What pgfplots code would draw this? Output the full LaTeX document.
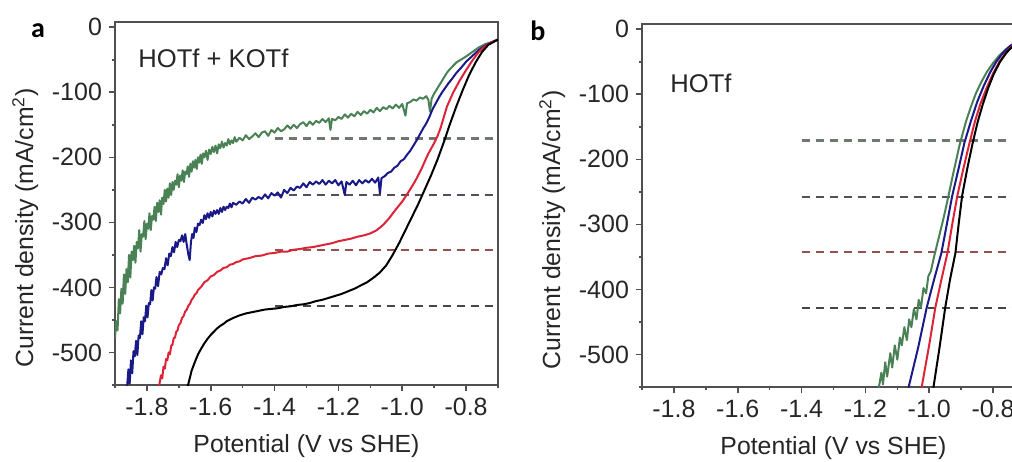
\documentclass[border=0pt]{standalone}
\usepackage{fontspec}
\setmainfont{Liberation Sans}
\newfontfamily\carlito{Carlito}
\usepackage{pgfplots}
\pgfplotsset{compat=1.18}

\definecolor{cgreen}{RGB}{75,130,85}
\definecolor{cblue}{RGB}{25,25,135}
\definecolor{cred}{RGB}{220,35,55}
\definecolor{dgreen}{RGB}{110,120,110}
\definecolor{dblue}{RGB}{80,80,95}
\definecolor{dred}{RGB}{150,80,80}
\definecolor{dblack}{RGB}{70,70,70}
\definecolor{axgray}{RGB}{80,80,80}

\tikzset{
  dsh/.style={line width=1.1pt, dash pattern=on 4pt off 3pt},
  crv/.style={line width=1pt, line join=round},
  ann/.style={anchor=west, inner sep=0pt, font=\fontsize{12.8}{14}\selectfont, black!85},
}
\pgfplotsset{
  lsv/.style={
    scale only axis, width=191.5pt, height=181.5pt,
    xmin=-1.9, xmax=-0.7, ymin=-550, ymax=8,
    xtick={-1.8,-1.6,-1.4,-1.2,-1.0,-0.8},
    ytick={0,-100,-200,-300,-400,-500},
    minor xtick={-1.9,-1.7,-1.5,-1.3,-1.1,-0.9,-0.7},
    minor ytick={-50,-150,-250,-350,-450,-550},
    tick pos=left, tick align=outside,
    major tick length=3pt, minor tick length=1.5pt,
    every tick/.style={axgray, line width=0.8pt},
    axis line style={axgray, line width=1pt},
    /pgf/number format/assume math mode=true,
    tick label style={font=\fontsize{12.5}{14}\selectfont, black!85},
    xticklabel style={/pgf/number format/.cd, fixed, fixed zerofill, precision=1},
    label style={font=\fontsize{12.4}{14}\selectfont, black!85},
    xlabel={Potential (V vs SHE)},
    xlabel style={yshift=-2.5pt},
    ylabel={Current density (mA/cm\textsuperscript{2})},
    every axis y label/.append style={at={(ticklabel cs:0.433)}},
    clip=true,
  },
}

\begin{document}
\begin{tikzpicture}
\begin{axis}[lsv, name=pa, anchor=south west, at={(0pt,0pt)}]
  \addplot[dsh, dgreen] coordinates {(-1.4,-171) (-0.7,-171)};
  \addplot[dsh, dblue] coordinates {(-1.4,-258) (-0.7,-258)};
  \addplot[dsh, dred] coordinates {(-1.4,-343) (-0.7,-343)};
  \addplot[dsh, dblack] coordinates {(-1.4,-429) (-0.7,-429)};
  % green
  \addplot[crv, cgreen] coordinates {
    (-1.900,-478) (-1.896,-452) (-1.892,-466) (-1.888,-418) (-1.884,-440)
    (-1.880,-402) (-1.876,-425) (-1.872,-380) (-1.868,-410) (-1.864,-372)
    (-1.860,-392) (-1.856,-350) (-1.852,-385) (-1.848,-345) (-1.844,-358)
    (-1.840,-336) (-1.836,-362) (-1.832,-330) (-1.828,-340) (-1.824,-312)
    (-1.820,-345) (-1.816,-318) (-1.812,-322) (-1.808,-298) (-1.804,-326)
    (-1.800,-302) (-1.796,-310) (-1.792,-286) (-1.788,-312) (-1.784,-290)
    (-1.780,-296) (-1.776,-276) (-1.772,-298) (-1.768,-270) (-1.764,-284)
    (-1.760,-266) (-1.756,-288) (-1.752,-262) (-1.748,-272) (-1.744,-250)
    (-1.740,-268) (-1.736,-248) (-1.732,-262) (-1.728,-240) (-1.724,-258)
    (-1.720,-238) (-1.716,-250) (-1.712,-236) (-1.708,-242) (-1.704,-226)
    (-1.700,-246) (-1.696,-228) (-1.692,-236) (-1.688,-220) (-1.684,-238)
    (-1.680,-222) (-1.676,-226) (-1.672,-214) (-1.668,-230) (-1.664,-210)
    (-1.660,-222) (-1.656,-206) (-1.652,-216) (-1.648,-204) (-1.644,-218)
    (-1.640,-200) (-1.636,-208) (-1.632,-196) (-1.628,-210) (-1.624,-194)
    (-1.620,-200) (-1.615,-190) (-1.610,-204) (-1.605,-188) (-1.600,-195)
    (-1.595,-184) (-1.590,-192) (-1.585,-182) (-1.580,-194) (-1.575,-180)
    (-1.570,-186) (-1.565,-176) (-1.560,-185) (-1.555,-178) (-1.550,-182)
    (-1.545,-172) (-1.540,-180) (-1.535,-174) (-1.530,-178) (-1.525,-169)
    (-1.520,-176) (-1.510,-170) (-1.500,-174) (-1.490,-166) (-1.480,-172)
    (-1.470,-168) (-1.460,-163) (-1.450,-169) (-1.440,-162) (-1.430,-160)
    (-1.420,-167) (-1.410,-158) (-1.400,-162) (-1.390,-155) (-1.380,-160)
    (-1.370,-157) (-1.360,-151) (-1.350,-156) (-1.340,-150) (-1.330,-155)
    (-1.320,-149) (-1.310,-146) (-1.300,-152) (-1.290,-145) (-1.280,-150)
    (-1.270,-144) (-1.260,-147) (-1.250,-141) (-1.240,-146) (-1.230,-140)
    (-1.225,-158) (-1.220,-141) (-1.210,-143) (-1.200,-138) (-1.190,-141)
    (-1.180,-134) (-1.170,-139) (-1.160,-133) (-1.150,-137) (-1.140,-130)
    (-1.130,-135) (-1.120,-129) (-1.110,-133) (-1.100,-127) (-1.090,-131)
    (-1.080,-124) (-1.070,-129) (-1.060,-123) (-1.050,-126) (-1.040,-121)
    (-1.030,-125) (-1.020,-119) (-1.010,-124) (-1.000,-118) (-0.990,-136)
    (-0.985,-117) (-0.975,-115) (-0.965,-111) (-0.955,-113) (-0.945,-108)
    (-0.935,-110) (-0.925,-106) (-0.918,-112) (-0.913,-130) (-0.908,-110)
    (-0.900,-102) (-0.890,-94) (-0.880,-86) (-0.870,-78) (-0.860,-70)
    (-0.850,-64) (-0.840,-59) (-0.830,-54) (-0.820,-51) (-0.800,-45)
    (-0.780,-38) (-0.760,-31) (-0.740,-26) (-0.720,-23) (-0.700,-19)
  };
  % blue
  \addplot[crv, cblue] coordinates {
    (-1.862,-552) (-1.858,-526) (-1.854,-548) (-1.850,-512) (-1.846,-532)
    (-1.842,-498) (-1.838,-506) (-1.834,-482) (-1.830,-504) (-1.826,-474)
    (-1.822,-478) (-1.818,-452) (-1.814,-472) (-1.810,-446) (-1.806,-452)
    (-1.802,-428) (-1.798,-446) (-1.794,-424) (-1.790,-426) (-1.786,-404)
    (-1.782,-420) (-1.778,-400) (-1.774,-402) (-1.770,-384) (-1.765,-398)
    (-1.760,-376) (-1.755,-380) (-1.750,-370) (-1.745,-372) (-1.740,-355)
    (-1.735,-366) (-1.730,-348) (-1.725,-352) (-1.720,-338) (-1.715,-346)
    (-1.710,-330) (-1.705,-338) (-1.700,-327) (-1.695,-329) (-1.690,-320)
    (-1.685,-330) (-1.680,-318) (-1.675,-335) (-1.670,-350) (-1.666,-358)
    (-1.662,-330) (-1.658,-318) (-1.654,-324) (-1.650,-308) (-1.645,-315)
    (-1.640,-302) (-1.635,-304) (-1.630,-296) (-1.625,-301) (-1.620,-289)
    (-1.615,-295) (-1.610,-286) (-1.605,-293) (-1.600,-284) (-1.595,-291)
    (-1.590,-282) (-1.585,-287) (-1.580,-281) (-1.575,-287) (-1.570,-278)
    (-1.565,-284) (-1.560,-276) (-1.555,-281) (-1.550,-276) (-1.545,-278)
    (-1.540,-271) (-1.535,-277) (-1.530,-270) (-1.520,-273) (-1.510,-268)
    (-1.500,-271) (-1.490,-264) (-1.480,-270) (-1.470,-262) (-1.460,-265)
    (-1.450,-261) (-1.440,-264) (-1.430,-257) (-1.420,-263) (-1.410,-255)
    (-1.400,-259) (-1.390,-254) (-1.380,-262) (-1.370,-250) (-1.360,-255)
    (-1.350,-247) (-1.340,-251) (-1.330,-245) (-1.320,-247) (-1.310,-240)
    (-1.300,-246) (-1.290,-238) (-1.280,-242) (-1.270,-237) (-1.260,-241)
    (-1.250,-235) (-1.240,-242) (-1.230,-236) (-1.220,-240) (-1.210,-235)
    (-1.200,-243) (-1.190,-237) (-1.180,-258) (-1.175,-238) (-1.165,-242)
    (-1.155,-236) (-1.145,-243) (-1.135,-235) (-1.125,-240) (-1.115,-235)
    (-1.105,-239) (-1.095,-233) (-1.085,-239) (-1.075,-231) (-1.070,-256)
    (-1.065,-232) (-1.055,-229) (-1.045,-224) (-1.035,-222) (-1.025,-216)
    (-1.015,-213) (-1.005,-206) (-0.995,-203) (-0.985,-196) (-0.975,-190)
    (-0.965,-182) (-0.955,-174) (-0.945,-165) (-0.935,-156) (-0.925,-148)
    (-0.915,-138) (-0.905,-126) (-0.895,-117) (-0.885,-108) (-0.875,-100)
    (-0.865,-93) (-0.855,-86) (-0.845,-80) (-0.830,-70) (-0.815,-62)
    (-0.800,-53) (-0.780,-44) (-0.760,-35) (-0.740,-28) (-0.720,-23)
    (-0.700,-19)
  };
  % red
  \addplot[crv, cred] coordinates {
    (-1.762,-552) (-1.756,-535) (-1.752,-540) (-1.748,-522) (-1.744,-525)
    (-1.740,-510) (-1.736,-512) (-1.732,-500) (-1.728,-503) (-1.724,-490)
    (-1.720,-488) (-1.716,-478) (-1.712,-477) (-1.708,-468) (-1.704,-466)
    (-1.700,-458) (-1.695,-455) (-1.690,-447) (-1.685,-444) (-1.680,-437)
    (-1.675,-434) (-1.670,-428) (-1.665,-425) (-1.660,-419) (-1.655,-416)
    (-1.650,-411) (-1.645,-409) (-1.640,-404) (-1.630,-399) (-1.620,-392)
    (-1.610,-389) (-1.600,-383) (-1.590,-381) (-1.580,-376) (-1.570,-374)
    (-1.560,-370) (-1.550,-369) (-1.540,-365) (-1.530,-364) (-1.520,-361)
    (-1.510,-360) (-1.500,-357) (-1.480,-355) (-1.460,-352) (-1.440,-351)
    (-1.420,-348) (-1.400,-347) (-1.380,-345) (-1.360,-345) (-1.340,-342)
    (-1.320,-341) (-1.300,-339) (-1.280,-338) (-1.260,-336) (-1.240,-334)
    (-1.220,-332) (-1.200,-329) (-1.180,-327) (-1.160,-325) (-1.140,-322)
    (-1.120,-320) (-1.100,-317) (-1.080,-312) (-1.060,-304) (-1.040,-293)
    (-1.020,-280) (-1.000,-268) (-0.980,-253) (-0.960,-237) (-0.940,-218)
    (-0.920,-196) (-0.900,-178) (-0.890,-168) (-0.880,-155) (-0.860,-122)
    (-0.840,-100) (-0.820,-82) (-0.800,-66) (-0.780,-51) (-0.760,-38)
    (-0.740,-29) (-0.720,-23) (-0.700,-19)
  };
  % black
  \addplot[crv, black] coordinates {
    (-1.672,-552) (-1.660,-528) (-1.650,-515) (-1.640,-503) (-1.630,-494)
    (-1.620,-486) (-1.610,-479) (-1.600,-473) (-1.590,-468) (-1.580,-463)
    (-1.570,-459) (-1.560,-456) (-1.550,-452) (-1.530,-447) (-1.510,-443)
    (-1.490,-440) (-1.470,-438) (-1.450,-436) (-1.430,-434) (-1.410,-433)
    (-1.390,-432) (-1.370,-430) (-1.350,-429) (-1.330,-427) (-1.310,-426)
    (-1.290,-424) (-1.270,-421) (-1.250,-419) (-1.230,-416) (-1.210,-413)
    (-1.190,-410) (-1.170,-406) (-1.150,-402) (-1.130,-397) (-1.110,-392)
    (-1.090,-385) (-1.070,-377) (-1.050,-366) (-1.030,-350) (-1.010,-332)
    (-0.990,-312) (-0.970,-292) (-0.950,-272) (-0.930,-250) (-0.910,-228)
    (-0.890,-204) (-0.870,-177) (-0.850,-148) (-0.830,-121) (-0.810,-96)
    (-0.790,-73) (-0.770,-54) (-0.750,-38) (-0.730,-27) (-0.700,-19)
  };
  \node[ann] at (rel axis cs:0.06,0.9) {HOTf + KOTf};
\end{axis}

\begin{axis}[lsv, name=pb, anchor=south west, at={(263.5pt,-1pt)}]
  \addplot[dsh, dgreen] coordinates {(-1.4,-171) (-0.7,-171)};
  \addplot[dsh, dblue] coordinates {(-1.4,-258) (-0.7,-258)};
  \addplot[dsh, dred] coordinates {(-1.4,-343) (-0.7,-343)};
  \addplot[dsh, dblack] coordinates {(-1.4,-429) (-0.7,-429)};
  \addplot[crv, cgreen] coordinates {
    (-1.158,-551) (-1.150,-528) (-1.145,-546) (-1.138,-512) (-1.132,-534)
    (-1.122,-498) (-1.116,-520) (-1.108,-486) (-1.100,-508) (-1.092,-474)
    (-1.086,-486) (-1.078,-458) (-1.070,-478) (-1.063,-446) (-1.056,-458)
    (-1.048,-430) (-1.040,-446) (-1.033,-416) (-1.026,-428) (-1.018,-398)
    (-1.010,-406) (-1.003,-380) (-0.995,-372) (-0.985,-350) (-0.975,-330)
    (-0.965,-310) (-0.955,-290) (-0.945,-268) (-0.935,-245) (-0.925,-222)
    (-0.915,-200) (-0.905,-178) (-0.895,-160) (-0.885,-142) (-0.870,-120)
    (-0.855,-100) (-0.840,-84) (-0.820,-66) (-0.800,-52) (-0.780,-40)
    (-0.760,-31) (-0.740,-24) (-0.720,-18) (-0.700,-14)
  };
  \addplot[crv, cblue] coordinates {
    (-1.065,-551) (-1.035,-490) (-1.008,-428) (-0.985,-385) (-0.962,-344)
    (-0.945,-300) (-0.928,-256) (-0.907,-212) (-0.890,-175) (-0.870,-142)
    (-0.850,-112) (-0.830,-88) (-0.810,-67) (-0.790,-50) (-0.770,-37)
    (-0.750,-27) (-0.730,-20) (-0.700,-14)
  };
  \addplot[crv, cred] coordinates {
    (-1.024,-551) (-1.000,-485) (-0.981,-428) (-0.962,-385) (-0.943,-344)
    (-0.928,-300) (-0.912,-256) (-0.892,-212) (-0.874,-175) (-0.857,-142)
    (-0.840,-115) (-0.820,-90) (-0.800,-68) (-0.780,-50) (-0.760,-36)
    (-0.740,-26) (-0.720,-19) (-0.700,-14)
  };
  \addplot[crv, black] coordinates {
    (-0.987,-551) (-0.968,-490) (-0.950,-428) (-0.935,-385) (-0.918,-344)
    (-0.908,-300) (-0.897,-256) (-0.880,-212) (-0.864,-175) (-0.848,-142)
    (-0.832,-115) (-0.815,-90) (-0.797,-68) (-0.778,-50) (-0.758,-36)
    (-0.740,-27) (-0.720,-19) (-0.700,-14)
  };
  \node[ann] at (rel axis cs:0.073,0.836) {HOTf};
\end{axis}

\node[font=\carlito\bfseries\fontsize{14}{16}\selectfont] at (-38.5pt,177pt) {a};
\node[font=\carlito\bfseries\fontsize{14}{16}\selectfont] at (211.5pt,177pt) {b};

\pgfresetboundingbox
\useasboundingbox (-57.5pt,-38pt) rectangle (448.5pt,192.5pt);
\end{tikzpicture}
\end{document}
